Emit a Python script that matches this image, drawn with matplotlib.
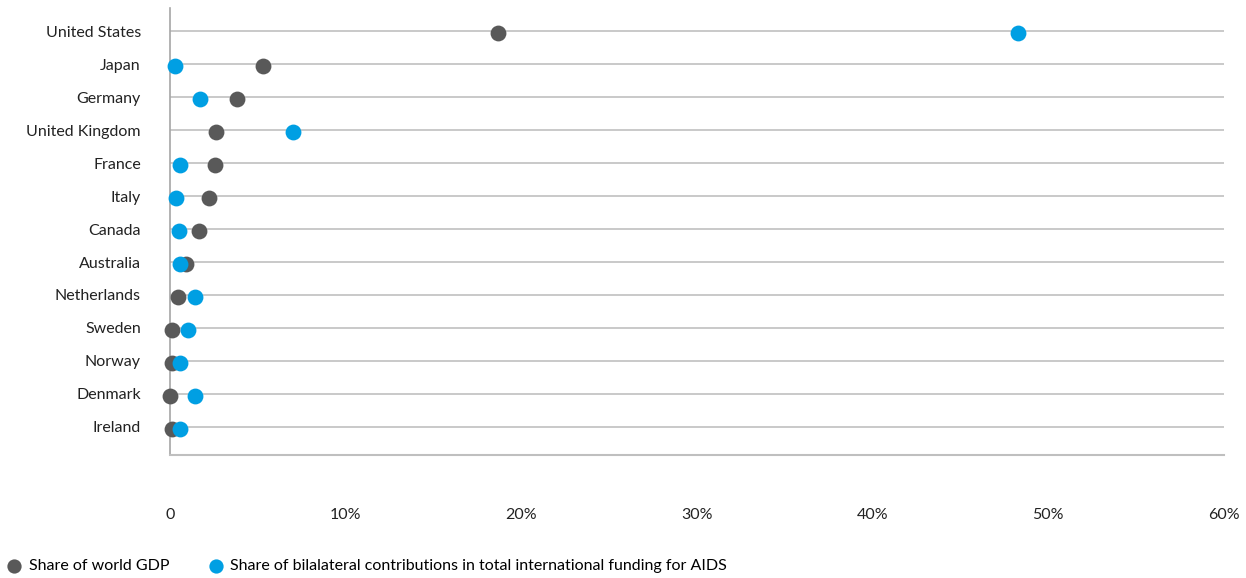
import matplotlib
matplotlib.use("Agg")
import matplotlib.pyplot as plt

plt.rcParams['font.family'] = ['Lato', 'DejaVu Sans']

countries = ['United States', 'Japan', 'Germany', 'United Kingdom', 'France', 'Italy',
             'Canada', 'Australia', 'Netherlands', 'Sweden', 'Norway', 'Denmark', 'Ireland']
gdp_share = [18.7, 5.3, 3.8, 2.6, 2.55, 2.2, 1.67, 0.91, 0.44, 0.13, 0.11, 0.02, 0.11]
aids_share = [48.3, 0.3, 1.7, 7.0, 0.57, 0.32, 0.5, 0.57, 1.43, 1.0, 0.57, 1.43, 0.57]
xticks = [0, 10, 20, 30, 40, 50, 60]
xticklabels = ['0', '10%', '20%', '30%', '40%', '50%', '60%']

gray = '#595959'
blue = '#009FE3'
fs = 11.5

fig = plt.figure(figsize=(12.46, 5.78), dpi=100)
ax = fig.add_axes([0.1364, 0.2128, 0.8459, 0.7734])

rows = list(range(len(countries)))
for r in rows:
    ax.axhline(r, color='#c0c0c0', lw=1.2, zorder=1)

ax.scatter(gdp_share, [r + 0.05 for r in rows], s=130, color=gray, zorder=3,
           label='Share of world GDP', linewidths=0, clip_on=False)
ax.scatter(aids_share, [r + 0.05 for r in rows], s=130, color=blue, zorder=4,
           label='Share of bilalateral contributions in total international funding for AIDS',
           linewidths=0, clip_on=False)

ax.set_ylim(12.85, -0.7)
ax.set_xlim(0, 60)
ax.set_yticks(rows)
ax.set_yticklabels(countries, fontsize=fs, color='#222222')
ax.set_xticks(xticks)
ax.set_xticklabels(xticklabels, fontsize=fs, color='#222222')
ax.tick_params(axis='y', length=0, pad=21)
ax.tick_params(axis='x', length=0, pad=38)

for s in ['top', 'right']:
    ax.spines[s].set_visible(False)
ax.spines['left'].set_color('#a6a6a6')
ax.spines['bottom'].set_color('#bfbfbf')
ax.spines['left'].set_linewidth(1.2)
ax.spines['bottom'].set_linewidth(1.5)

fig.legend(loc='lower left', bbox_to_anchor=(0.0, -0.003), ncol=2, frameon=False,
           fontsize=fs, handletextpad=0.4, columnspacing=2.4, markerscale=0.9,
           handlelength=1.0, borderaxespad=0.0)

fig.savefig('out.png', dpi=100)
